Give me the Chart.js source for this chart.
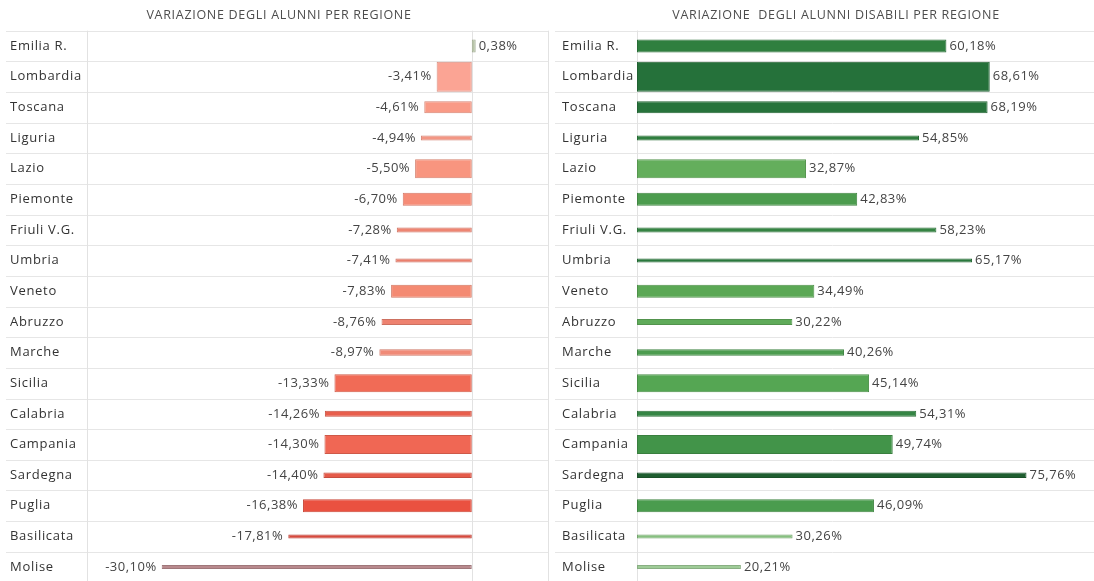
<!DOCTYPE html>
<html lang="it">
<head>
<meta charset="utf-8">
<title>Variazione degli alunni per regione</title>
<script src="https://cdn.jsdelivr.net/npm/chart.js@4.4.1/dist/chart.umd.min.js"></script>
<style>
  html, body { margin: 0; padding: 0; background: #fff; overflow: hidden; }
  #wrap { position: relative; width: 1094px; height: 581px; overflow: hidden; }
  #cLeft { position: absolute; left: 0; top: 0; }
  #cRight { position: absolute; left: 550px; top: 0; }
</style>
</head>
<body>
<div id="wrap">
  <canvas id="cLeft" width="550" height="584"></canvas>
  <canvas id="cRight" width="560" height="584"></canvas>
</div>
<script>
/* dati */
const regioni = ["Emilia R.", "Lombardia", "Toscana", "Liguria", "Lazio", "Piemonte", "Friuli V.G.", "Umbria",
  "Veneto", "Abruzzo", "Marche", "Sicilia", "Calabria", "Campania", "Sardegna", "Puglia", "Basilicata", "Molise"];
const varAlunni = [0.38, -3.41, -4.61, -4.94, -5.50, -6.70, -7.28, -7.41, -7.83, -8.76, -8.97, -13.33, -14.26, -14.30, -14.40, -16.38, -17.81, -30.10];
const varDisabili = [60.18, 68.61, 68.19, 54.85, 32.87, 42.83, 58.23, 65.17, 34.49, 30.22, 40.26, 45.14, 54.31, 49.74, 75.76, 46.09, 30.26, 20.21];
// peso relativo della regione (spessore della barra)
const pesoRegione = [13, 30, 12, 5, 19, 13, 5, 4, 13, 6, 6.5, 18, 6, 19, 5.5, 13, 4, 4];

/* colori */
const coloriRossi = ["#b8c5a8", "#fba494", "#f99a86", "#f39684", "#f8957f", "#f68c77", "#ee8572", "#eb7f6d",
  "#f48a72", "#ee8270", "#f08a77", "#f16b56", "#e85e4c", "#f06754", "#e55a49", "#ea5140", "#d7493c", "#b98a8e"];
const coloriVerdi = ["#2f7f3f", "#25713a", "#27733b", "#2f7e3f", "#64ae5c", "#4c9c4e", "#358443", "#2a793d",
  "#5ba855", "#5fab5a", "#4c9c4f", "#55a653", "#358544", "#429449", "#1f5e30", "#4a9c4e", "#86c07f", "#9fcc98"];

const FONT = "'Open Sans', 'DejaVu Sans', sans-serif";
const SPACING = "0.7px";
const fmt = v => v.toFixed(2).replace(".", ",") + "%";
function darken(hex, f){
  const n = parseInt(hex.slice(1), 16);
  const c = [(n >> 16) & 255, (n >> 8) & 255, n & 255].map(x => Math.round(x * f));
  return `rgb(${c[0]},${c[1]},${c[2]})`;
}

// spessore barra variabile + righe + etichette
const tablePlugin = {
  id: "tabella",
  beforeLayout(chart){ chart.ctx.letterSpacing = SPACING; },
  beforeDraw(chart){ chart.ctx.letterSpacing = SPACING; },
  afterDatasetsUpdate(chart){
    chart.getDatasetMeta(0).data.forEach((bar, i) => { bar.height = pesoRegione[i]; });
  },
  beforeDatasetsDraw(chart, args, opts){
    const {ctx, chartArea: a, scales: {x}} = chart;
    const n = regioni.length, step = (a.bottom - a.top) / n;
    ctx.save();
    ctx.strokeStyle = "#e6e6e6";
    ctx.lineWidth = 1;
    for (let i = 0; i <= n; i++){
      const y = Math.round(a.top + i * step) + 0.5;
      ctx.beginPath(); ctx.moveTo(opts.x0, y); ctx.lineTo(opts.x1, y); ctx.stroke();
    }
    ctx.strokeStyle = "#e2e2e2";
    const vx = [a.left, x.getPixelForValue(0)];
    if (opts.bordoDestro) vx.push(a.right);
    vx.forEach(px => {
      ctx.beginPath(); ctx.moveTo(Math.round(px) + 0.5, a.top); ctx.lineTo(Math.round(px) + 0.5, a.bottom); ctx.stroke();
    });
    ctx.restore();
  },
  afterDatasetsDraw(chart){
    const {ctx} = chart;
    const values = chart.data.datasets[0].data;
    ctx.save();
    ctx.font = `13px ${FONT}`;
    ctx.letterSpacing = "0.5px";
    ctx.fillStyle = "#444";
    ctx.textBaseline = "middle";
    chart.getDatasetMeta(0).data.forEach((bar, i) => {
      const v = values[i];
      if (v < 0){ ctx.textAlign = "right"; ctx.fillText(fmt(v), bar.x - 5, bar.y); }
      else { ctx.textAlign = "left"; ctx.fillText(fmt(v), bar.x + 3, bar.y); }
    });
    ctx.restore();
  }
};

function makeChart(id, titolo, valori, colori, xMin, xMax, padLeft, axisWidth, righe){
  return new Chart(document.getElementById(id), {
    type: "bar",
    data: {
      labels: regioni,
      datasets: [{
        data: valori,
        backgroundColor: colori,
        borderColor: colori.map(c => darken(c, 0.86)),
        borderWidth: 1,
        borderSkipped: false
      }]
    },
    options: {
      indexAxis: "y",
      responsive: false,
      animation: false,
      layout: { padding: { left: padLeft, right: righe.padRight, bottom: 1.6, top: 0 } },
      plugins: {
        legend: { display: false },
        tooltip: { enabled: false },
        title: {
          display: true, text: titolo, color: "#4d4d4d",
          font: { family: FONT, size: 12.5, weight: "normal" },
          padding: { top: 7.5, bottom: 8.2 }
        },
        tabella: righe
      },
      scales: {
        x: { display: false, min: xMin, max: xMax },
        y: {
          grid: { display: false }, border: { display: false },
          ticks: { autoSkip: false, crossAlign: "far", color: "#333", font: { family: FONT, size: 13 } },
          afterFit: s => { s.width = axisWidth; s.paddingTop = 0; s.paddingBottom = 0; }
        }
      }
    },
    plugins: [tablePlugin]
  });
}

makeChart("cLeft", "VARIAZIONE DEGLI ALUNNI PER REGIONE", varAlunni, coloriRossi,
  -37.4, 7.4, 10, 76.5, { x0: 6, x1: 548, bordoDestro: true, padRight: 2 });
makeChart("cRight", "VARIAZIONE  DEGLI ALUNNI DISABILI PER REGIONE", varDisabili, coloriVerdi,
  0, 92, 12, 75, { x0: 5, x1: 560, bordoDestro: false, padRight: 0 });
</script>
</body>
</html>
